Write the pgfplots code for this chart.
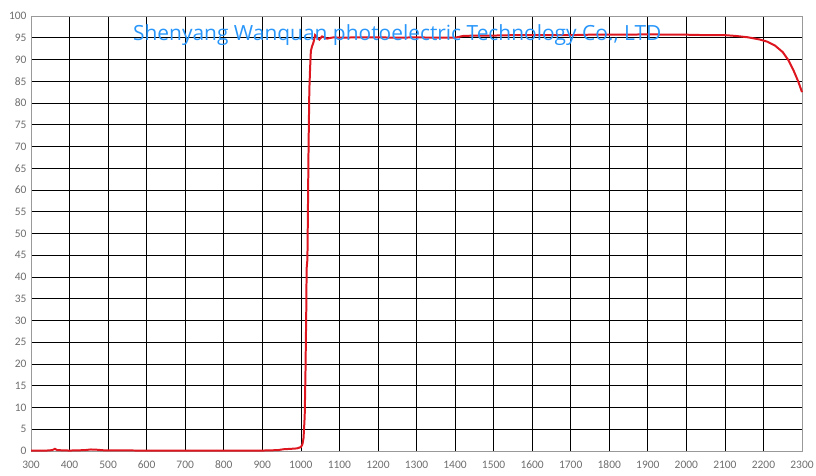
\documentclass[border=0pt]{standalone}
\usepackage{pgfplots}
\pgfplotsset{compat=1.18}
\usepackage{fontspec}
\setmainfont{Carlito}
\newfontfamily\wmfont{Open Sans}
\definecolor{curve}{RGB}{222,22,32}
\definecolor{wm}{RGB}{40,150,250}
\definecolor{ticklab}{RGB}{110,110,110}
\begin{document}
\begin{tikzpicture}
\useasboundingbox (0,0) rectangle (816bp,476bp);
\begin{axis}[
    at={(31bp,25bp)},
    anchor=origin,
    scale only axis,
    width=771bp,
    height=435bp,
    xmin=300, xmax=2300,
    ymin=0, ymax=100,
    xtick distance=100,
    ytick distance=5,
    grid=major,
    major grid style={black, line width=0.7pt},
    axis line style={gray!80, line width=0.8pt},
    major tick length=0pt,
    tick label style={font=\fontsize{11.5}{12}\selectfont, text=ticklab},
    /pgf/number format/assume math mode=true,
    /pgf/number format/1000 sep={},
    xticklabel style={anchor=north, text height=8bp, text depth=0bp, yshift=-6bp},
    yticklabel style={xshift=-1bp},
    clip=false,
]
\addplot[curve, line width=2pt] coordinates {
(300,0.1) (340,0.1) (355,0.2) (362,0.5) (368,0.2) (400,0.1) (440,0.2) (455,0.35) (470,0.3) (490,0.15)
(600,0.1) (700,0.1) (800,0.1) (900,0.1) (940,0.2) (955,0.4) (975,0.5) (990,0.6) (1000,0.9) (1004,1.5)
(1007,3) (1010,8) (1012,18) (1014,32) (1015,42) (1017,44) (1018,52) (1020,70) (1022,83)
(1024,88) (1026,92) (1029,93) (1033,94) (1037,95.6) (1041,95.2) (1048,94.6) (1055,95.3)
(1068,94.8) (1085,95.1) (1100,95) (1150,95.1) (1200,95.1) (1250,95.0) (1300,95.1)
(1350,95.0) (1400,95.0) (1420,95.4) (1450,95.5) (1500,95.5) (1550,95.6) (1600,95.6)
(1650,95.6) (1700,95.6) (1750,95.7) (1800,95.7) (1850,95.7) (1900,95.8) (1950,95.7)
(2000,95.7) (2050,95.6) (2100,95.6) (2130,95.4) (2160,95.1) (2190,94.6) (2210,94.1)
(2230,93.2) (2250,91.7) (2265,89.8) (2278,87.5) (2290,85) (2300,82.5)
};
\node[font=\wmfont\fontsize{21}{22}\selectfont, text=wm] at (rel axis cs:0.475,0.956) {Shenyang Wanquan photoelectric Technology Co., LTD};
\end{axis}
\end{tikzpicture}
\end{document}
